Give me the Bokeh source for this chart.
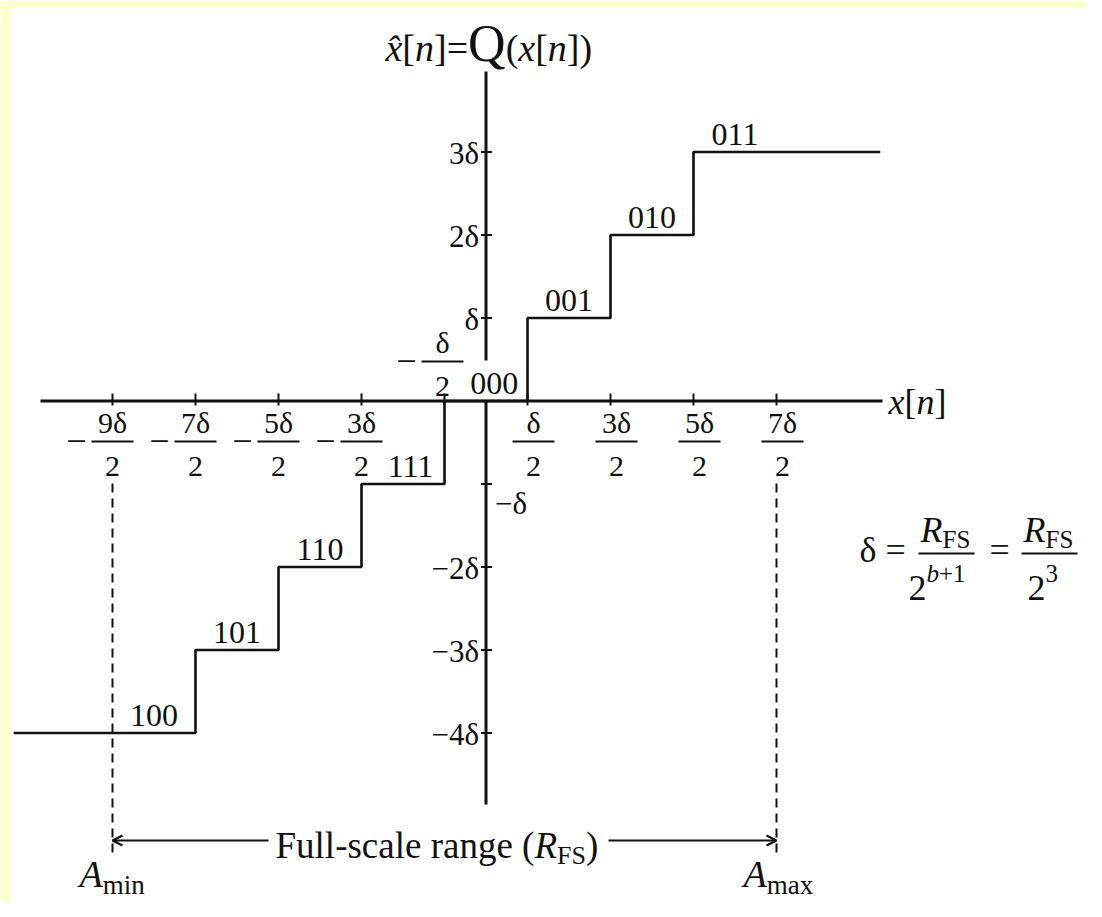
from bokeh.plotting import figure
from bokeh.models import Range1d, Arrow, OpenHead
from bokeh.core.properties import value
from bokeh.embed import file_html
from bokeh.resources import INLINE

# ---------------- data (values in units of delta) ----------------
levels = [-4, -3, -2, -1, 0, 1, 2, 3]
codes = ["100", "101", "110", "111", "000", "001", "010", "011"]
thresholds = [-3.5, -2.5, -1.5, -0.5, 0.5, 1.5, 2.5]
x_ticks = [-4.5, -3.5, -2.5, -1.5, -0.5, 0.5, 1.5, 2.5, 3.5]
x_tick_num = ["9δ", "7δ", "5δ", "3δ", "δ", "δ", "3δ", "5δ", "7δ"]
x_tick_den = ["2", "2", "2", "2", "2", "2", "2", "2", "2"]
y_ticks = [3, 2, 1, -1, -2, -3, -4]
y_tick_labels = ["3δ", "2δ", "δ", "−δ", "−2δ", "−3δ", "−4δ"]
a_min, a_max = -4.5, 3.5
x_domain = [-5.69, 4.75]

# ---------------- layout ----------------
W, H = 1086, 901
BL, BT = 10, 7         # yellow border strips (left, top)
SC = 83.0              # pixels per delta
OX, OY = 485.5, 400.5  # canvas position of the origin
FONT = value("Liberation Serif")
INK = "#111111"
BASE_FIX = 0.28        # baseline correction (em)


def X(px):
    return (px - OX) / SC


def Y(py):
    return (OY - py) / SC


p = figure(width=W, height=H, output_backend="svg", toolbar_location=None,
           x_range=Range1d(X(BL), X(W)), y_range=Range1d(Y(H), Y(BT)),
           x_axis_type=None, y_axis_type=None,
           min_border_left=BL, min_border_top=BT, min_border_right=0, min_border_bottom=0)
p.grid.visible = False
p.outline_line_color = None
p.background_fill_color = "white"
p.border_fill_color = "#FFFFCC"

ROMAN = {' ': 250, '(': 333, ')': 333, '-': 333, '=': 564, '[': 333, ']': 333, '+': 564,
         'F': 556, 'R': 667, 'S': 556, 'Q': 722, 'a': 444, 'b': 500, 'c': 444, 'e': 444,
         'g': 500, 'i': 278, 'l': 278, 'm': 778, 'n': 500, 'r': 333, 's': 389, 'u': 500,
         'x': 500, 'δ': 500, '−': 564, '\u0302': 0}
ITAL = {'x': 444, 'n': 500, 'R': 611, 'A': 611, 'b': 500, 'Q': 722, '\u0302': 0}


def width(s, size, italic):
    m = ITAL if italic else ROMAN
    return sum(m.get(ch, 500) for ch in s) / 1000.0 * size


def txt_data(s, x, y, size, italic=False, align="left"):
    p.text(x=[x], y=[y + BASE_FIX * size / SC], text=[s], text_font=FONT,
           text_font_size=f"{size}px",
           text_font_style="italic" if italic else "normal", text_align=align,
           text_baseline="alphabetic", text_color=INK)


def txt(s, px, py, size, italic=False, align="left"):
    txt_data(s, X(px), Y(py), size, italic, align)


def run(pieces, px, py):
    cur = px
    for s, size, it, dy in pieces:
        txt(s, cur, py + dy, size, it)
        cur += width(s, size, it)


# ---------------- axes ----------------
p.segment(x0=[X(40)], y0=[0], x1=[X(882)], y1=[0], line_color=INK, line_width=3)
p.segment(x0=[0, 0], y0=[Y(71), 0], x1=[0, 0], y1=[Y(360), Y(804)], line_color=INK, line_width=3)

# ticks
p.segment(x0=x_ticks, y0=[-4.5 / SC] * len(x_ticks), x1=x_ticks, y1=[7.5 / SC] * len(x_ticks),
          line_color=INK, line_width=2)
p.segment(x0=[-5 / SC] * len(y_ticks), y0=y_ticks, x1=[6 / SC] * len(y_ticks), y1=y_ticks,
          line_color=INK, line_width=2)

# ---------------- staircase ----------------
sx, sy = [x_domain[0]], [levels[0]]
for t, lo, hi in zip(thresholds, levels[:-1], levels[1:]):
    sx += [t, t]
    sy += [lo, hi]
sx.append(x_domain[1])
sy.append(levels[-1])
p.line(sx, sy, line_color=INK, line_width=2.6)

# code words
code_dx = {-1: 0.09, 0: 0.10}
for lev, c in zip(levels, codes):
    txt_data(c, lev + code_dx.get(lev, 0.0), lev + 0.1, 32, align="center")

# ---------------- x tick labels (fractions) ----------------
FS_FRAC = 30
half_bar = 21 / SC
for v, num, den in zip(x_ticks, x_tick_num, x_tick_den):
    if v == -0.5:
        bar_y = Y(361)
        cx = v - 2 / SC
    else:
        bar_y = Y(441)
        cx = v + (6 / SC if v > 0 else 0.0)
    p.segment(x0=[cx - half_bar], y0=[bar_y], x1=[cx + half_bar], y1=[bar_y],
              line_color=INK, line_width=2)
    txt_data(num, cx, bar_y + 11 / SC, FS_FRAC, align="center")
    txt_data(den, cx, bar_y - 33 / SC, FS_FRAC, align="center")
    if v < 0:
        txt_data("−", cx - 36 / SC, bar_y - 0.26 * 36 / SC, 36, align="center")

# ---------------- y tick labels ----------------
for v, lab in zip(y_ticks, y_tick_labels):
    if v == -1:
        txt_data(lab, 9 / SC, v - 28 / SC, 31, align="left")
    else:
        txt_data(lab, -7 / SC, v - 10 / SC, 31, align="right")

# ---------------- full-scale range ----------------
p.segment(x0=[a_min, a_max], y0=[Y(483)] * 2, x1=[a_min, a_max], y1=[Y(858)] * 2,
          line_color=INK, line_width=2, line_dash="9 6")
arr_y = Y(840)
p.add_layout(Arrow(end=OpenHead(size=10, line_width=2, line_color=INK),
                   x_start=X(268), y_start=arr_y, x_end=a_min, y_end=arr_y,
                   line_color=INK, line_width=2))
p.add_layout(Arrow(end=OpenHead(size=10, line_width=2, line_color=INK),
                   x_start=X(608), y_start=arr_y, x_end=a_max, y_end=arr_y,
                   line_color=INK, line_width=2))
run([("Full-scale range (", 37, False, 0), ("R", 37, True, 0), ("FS", 26, False, 7),
     (")", 37, False, 0)], 275, 855)

run([("A", 38, True, 0), ("min", 27, False, 8)], 79, 884)
run([("A", 38, True, 0), ("max", 27, False, 8)], 743, 884)

# ---------------- axis titles ----------------
run([("x\u0302", 38, True, 0), ("[", 38, False, 0), ("n", 38, True, 0), ("]=", 38, False, 0),
     ("Q", 52, False, 0), ("(", 38, False, 0), ("x", 38, True, 0), ("[", 38, False, 0),
     ("n", 38, True, 0), ("])", 38, False, 0)], 385, 58)
run([("x", 36, True, 0), ("[", 36, False, 0), ("n", 36, True, 0), ("]", 36, False, 0)], 888, 412)

# ---------------- formula ----------------
FX = -16
txt("δ", 875 + FX, 560, 36)
txt("=", 901 + FX, 560, 36)
p.segment(x0=[X(934 + FX), X(1037 + FX)], y0=[Y(553)] * 2,
          x1=[X(990 + FX), X(1093 + FX)], y1=[Y(553)] * 2, line_color=INK, line_width=2)
run([("R", 36, True, 0), ("FS", 25, False, 6)], 936 + FX, 540)
run([("2", 36, False, 0), ("b", 25, True, -18), ("+1", 25, False, -18)], 924 + FX, 598)
txt("=", 1005 + FX, 560, 36)
run([("R", 36, True, 0), ("FS", 25, False, 6)], 1039 + FX, 540)
run([("2", 36, False, 0), ("3", 25, False, -18)], 1043 + FX, 598)

open("out.html", "w").write(file_html(p, INLINE))
